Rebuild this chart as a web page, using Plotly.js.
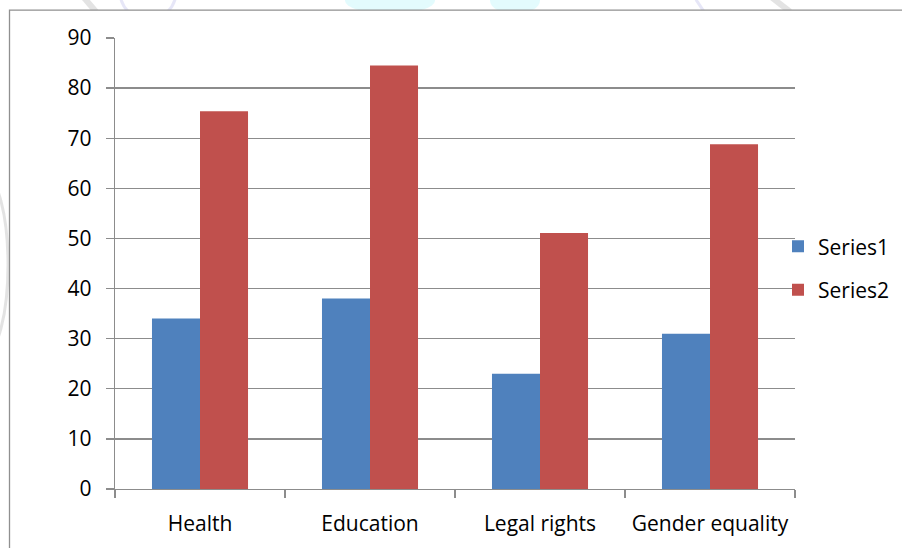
<!DOCTYPE html>
<html>
<head>
<meta charset="utf-8">
<script src="https://cdn.plot.ly/plotly-3.0.1.min.js"></script>
<style>
  html, body { margin: 0; padding: 0; background: #ffffff; }
  #chart { width: 902px; height: 548px; }
</style>
</head>
<body>
<div id="chart"></div>
<script>
// Categories and the two series plotted as grouped columns
const categories = ["Health", "Education", "Legal rights", "Gender equality"];
const series1 = [34, 38, 23, 31];
const series2 = [75.4, 84.5, 51.1, 68.8];
const seriesNames = ["Series1", "Series2"];
const yTicks = [0, 10, 20, 30, 40, 50, 60, 70, 80, 90];

const FONT = "'Open Sans', 'Noto Sans', sans-serif";
const FONT_SIZE = 21;
const AXIS_GREY = "#8c8c8c";

// pixel helpers for paper-referenced decoration (plot area 115..795 x 38.3..489.3)
const px = v => (v - 115) / 680;
const py = v => (489.3 - v) / 451;

const traces = [
  {
    type: "bar",
    name: seriesNames[0],
    x: categories,
    y: series1,
    marker: { color: "#4f81bd", line: { width: 0 } },
    legendgroup: "s1",
    hoverinfo: "x+y+name"
  },
  {
    type: "bar",
    name: seriesNames[1],
    x: categories,
    y: series2,
    marker: { color: "#c0504d", line: { width: 0 } },
    legendgroup: "s2",
    hoverinfo: "x+y+name"
  }
];

// faint background seal peeking out around the chart frame
const sealShapes = [
  { type: "line", x0: px(84), y0: py(-2), x1: px(96), y1: py(12), line: { color: "rgba(215,215,215,0.7)", width: 6 } },
  { type: "circle", x0: px(120), y0: py(-36), x1: px(176), y1: py(20), line: { color: "rgba(205,205,240,0.5)", width: 3 }, fillcolor: "rgba(0,0,0,0)" },
  { type: "circle", x0: px(345), y0: py(-12), x1: px(435), y1: py(14), line: { width: 0 }, fillcolor: "rgba(220,250,252,0.8)" },
  { type: "circle", x0: px(490), y0: py(-12), x1: px(540), y1: py(14), line: { width: 0 }, fillcolor: "rgba(220,250,252,0.8)" },
  { type: "line", x0: px(696), y0: py(0), x1: px(704), y1: py(12), line: { color: "rgba(205,205,240,0.5)", width: 3 } },
  { type: "line", x0: px(772), y0: py(-2), x1: px(790), y1: py(12), line: { color: "rgba(215,215,215,0.7)", width: 6 } },
  { type: "circle", x0: px(-40), y0: py(355), x1: px(8), y1: py(175), line: { color: "rgba(220,220,220,0.8)", width: 3 }, fillcolor: "rgba(0,0,0,0)" }
].map(s => Object.assign({ xref: "paper", yref: "paper", layer: "below" }, s));

const layout = {
  width: 902,
  height: 548,
  margin: { l: 115, r: 107, t: 38.3, b: 58.7, pad: 0, autoexpand: false },
  paper_bgcolor: "#ffffff",
  plot_bgcolor: "#ffffff",
  font: { family: FONT, size: FONT_SIZE, color: "#000000" },
  barmode: "group",
  bargap: 0.435,
  bargroupgap: 0,
  showlegend: true,
  legend: {
    x: 0.975,
    xanchor: "left",
    y: 0.4896,
    yanchor: "middle",
    traceorder: "grouped",
    tracegroupgap: 13,
    itemwidth: 30,
    font: { family: FONT, size: FONT_SIZE, color: "#000000" },
    bgcolor: "rgba(0,0,0,0)"
  },
  xaxis: {
    type: "category",
    showline: true,
    linecolor: AXIS_GREY,
    linewidth: 1.3,
    ticks: "outside",
    tickson: "boundaries",
    ticklen: 8,
    tickwidth: 1.3,
    tickcolor: AXIS_GREY,
    showgrid: false,
    zeroline: false,
    tickfont: { family: FONT, size: FONT_SIZE, color: "#000000" },
    ticklabelstandoff: 15,
    fixedrange: true
  },
  yaxis: {
    range: [0, 90],
    tickvals: yTicks,
    ticktext: yTicks.map(String),
    showline: true,
    linecolor: AXIS_GREY,
    linewidth: 1.3,
    ticks: "outside",
    ticklen: 8,
    tickwidth: 1.3,
    tickcolor: AXIS_GREY,
    showgrid: true,
    gridcolor: AXIS_GREY,
    gridwidth: 1.3,
    zeroline: false,
    tickfont: { family: FONT, size: FONT_SIZE, color: "#000000" },
    ticklabelstandoff: 10,
    fixedrange: true
  },
  shapes: sealShapes.concat([
    // outer chart frame, white inside so the seal only shows around it
    {
      type: "rect",
      xref: "paper", yref: "paper",
      x0: px(9.5), x1: 1.3,
      y0: -0.3, y1: py(10.5),
      line: { color: "#909090", width: 1.3 },
      fillcolor: "#ffffff",
      layer: "below"
    }
  ])
};

Plotly.newPlot("chart", traces, layout, { staticPlot: true, displayModeBar: false });
</script>
</body>
</html>
